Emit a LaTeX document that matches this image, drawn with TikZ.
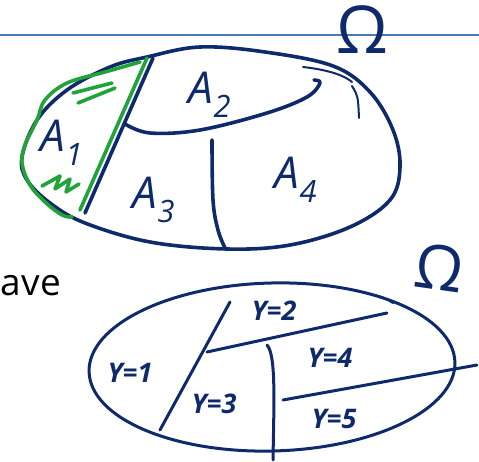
\documentclass[tikz,border=0pt]{standalone}
\usepackage{fontspec}
\setmainfont{Open Sans}
\definecolor{InkNavy}{HTML}{0E2A6B}
\definecolor{InkGreen}{HTML}{22A33A}
\definecolor{RuleBlue}{HTML}{4D79B8}
\usetikzlibrary{calc}
\begin{document}
\begin{tikzpicture}[x=1pt,y=-1pt,
  ink/.style={draw=InkNavy,line width=3.6pt,line cap=round,line join=round},
  thinink/.style={draw=InkNavy,line width=2pt,line cap=round},
  greenink/.style={draw=InkGreen,line width=3.6pt,line cap=round,line join=round},
  hand/.style={text=InkNavy,font=\fontsize{44}{44}\selectfont\itshape,inner sep=0pt},
  ylabel/.style={text=InkNavy,font=\fontsize{27}{27}\selectfont\bfseries\itshape,inner sep=0pt}]
  \useasboundingbox (0,0) rectangle (479,462);
  \draw[RuleBlue,line width=1.6pt] (0,35) -- (479,35);
  \node[text=InkNavy,font=\fontsize{66}{66}\selectfont,inner sep=0pt] (omegaTop) at (362,30) {Ω};
  \draw[ink] plot[smooth cycle,tension=0.6] coordinates {(147,57) (200,47) (265,52) (333,66) (370,92) (393,130) (400,167) (390,200) (350,227) (290,245) (227,249) (150,242) (85,223) (50,203) (27,180) (22,157) (37,120) (67,90) (110,67)};
  \draw[thinink] (303,67) .. controls (330,70) and (345,76) .. (352,82);
  \draw[thinink] (352,86) .. controls (358,96) .. (359,118);
  \draw[ink] plot[smooth,tension=0.6] coordinates {(125,124) (150,133) (200,130) (267,113) (307,97) (320,83) (314,80)};
  \draw[ink] (153,58) -- (85,213);
  \draw[ink] plot[smooth,tension=0.6] coordinates {(212,140) (213,200) (218,230) (225,248)};
  \draw[greenink] (147,58) -- (80,210);
  \draw[greenink] plot[smooth,tension=0.6] coordinates {(140,62) (105,72) (67,83) (45,100) (37,120) (25,145) (22,163) (30,185) (45,202) (62,215) (72,217)};
  \draw[greenink] (73,93) -- (112,83);
  \draw[greenink] (78,103) -- (115,88);
  \draw[greenink] (42,186) -- (60,176) -- (55,189) -- (70,179) -- (66,192) -- (79,184);
  \node[hand] (setA1) at (62,143) {A\textsubscript{1}};
  \node[hand] (setA2) at (210,95) {A\textsubscript{2}};
  \node[hand] (setA3) at (154,200) {A\textsubscript{3}};
  \node[hand] (setA4) at (296,180) {A\textsubscript{4}};
  \node[anchor=base east,font=\fontsize{37}{37}\selectfont,inner sep=0pt] (wordAve) at (61,295) {ave};
  \node[text=InkNavy,font=\fontsize{62}{62}\selectfont,inner sep=0pt,rotate=-8] (omegaLow) at (440,268) {Ω};
  \draw[ink,line width=3pt,rotate around={1.5:(272,367)}] (272,367) ellipse [x radius=183,y radius=84];
  \draw[thinink] (373,295) .. controls (383,297) .. (393,303);
  \draw[ink,line width=3pt] (230,302) -- (160,430);
  \draw[ink,line width=3pt] (207,352) -- (387,313);
  \draw[ink,line width=3pt] (267,345) .. controls (276,355) and (274,400) .. (273,460);
  \draw[ink,line width=3pt] (283,400) -- (477,365);
  \node[ylabel] (yTwo) at (274,311) {Y=2};
  \node[ylabel] (yOne) at (130,373) {Y=1};
  \node[ylabel] (yFour) at (330,358) {Y=4};
  \node[ylabel] (yThree) at (214,404) {Y=3};
  \node[ylabel] (yFive) at (334,419) {Y=5};
\end{tikzpicture}
\end{document}
